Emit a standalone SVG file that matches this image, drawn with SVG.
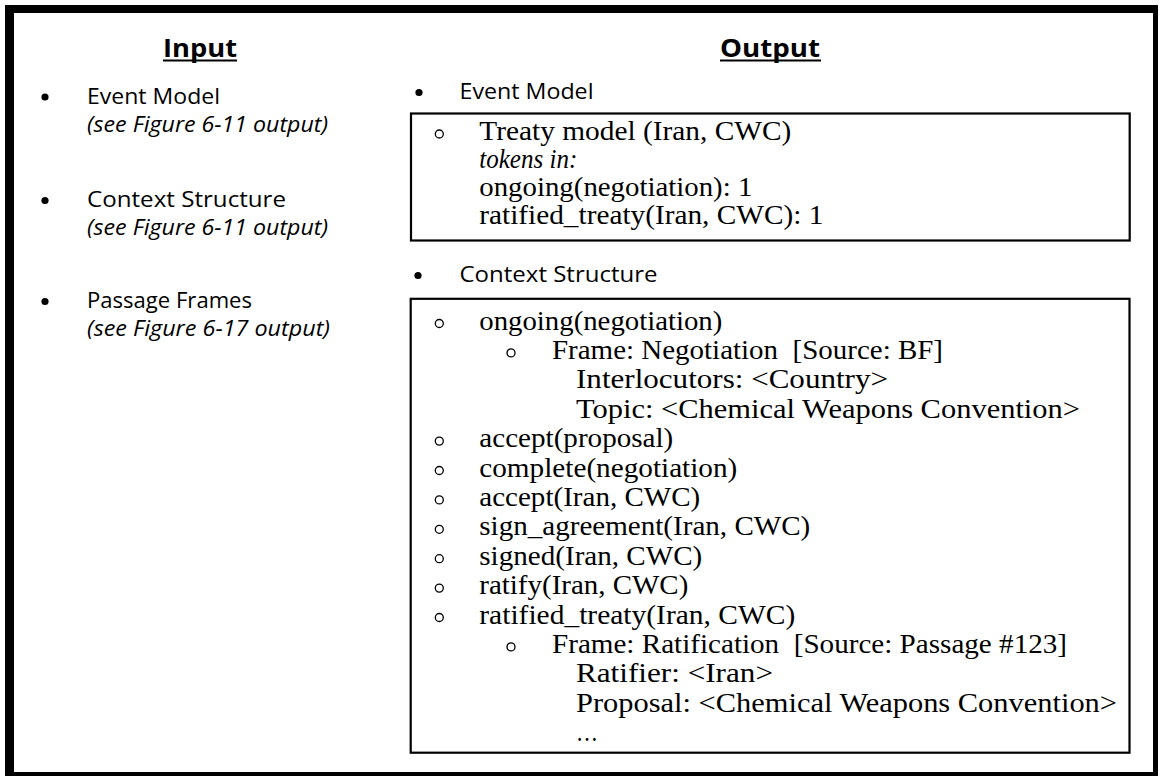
<svg xmlns="http://www.w3.org/2000/svg" width="1160" height="776" viewBox="0 0 1160 776">
<style>
.sans{font-family:"Open Sans","Noto Sans","Liberation Sans",sans-serif;font-size:21px;fill:#000}
.it{font-style:italic}
.head{font-family:"Open Sans","Noto Sans","Liberation Sans",sans-serif;font-size:25px;font-weight:bold;fill:#000}
.serif{font-family:"Liberation Serif","Times New Roman",serif;font-size:28px;fill:#000}
.box{fill:none;stroke:#000;stroke-width:2.2}
.mk{fill:none;stroke:#000;stroke-width:1.3}
.ul{stroke:#000;stroke-width:2}
</style>
<rect x="0" y="0" width="1160" height="776" fill="#fff"/>
<g id="frame">
<rect x="5" y="5" width="1153" height="8" fill="#000"/>
<rect x="5" y="5" width="9" height="771" fill="#000"/>
<rect x="1153" y="5" width="5" height="771" fill="#000"/>
<rect x="5" y="772" width="1153" height="4" fill="#000"/>
</g>
<g id="connectors"/>
<g id="input-header">
<text class="head" x="163" y="57" textLength="74" lengthAdjust="spacingAndGlyphs">Input</text>
<line class="ul" x1="163" y1="60.5" x2="237" y2="60.5"/>
</g>
<g id="output-header">
<text class="head" x="720" y="57" textLength="100" lengthAdjust="spacingAndGlyphs">Output</text>
<line class="ul" x1="720" y1="60.5" x2="821" y2="60.5"/>
</g>
<g id="input-event-model">
<circle cx="45" cy="97" r="3.6" fill="#000"/>
<text class="sans" x="87" y="104" textLength="133" lengthAdjust="spacingAndGlyphs">Event Model</text>
<text class="sans it" x="87" y="132" textLength="241" lengthAdjust="spacingAndGlyphs">(see Figure 6-11 output)</text>
</g>
<g id="input-context-structure">
<circle cx="45" cy="200.5" r="3.6" fill="#000"/>
<text class="sans" x="87" y="207" textLength="199" lengthAdjust="spacingAndGlyphs">Context Structure</text>
<text class="sans it" x="87" y="235" textLength="241" lengthAdjust="spacingAndGlyphs">(see Figure 6-11 output)</text>
</g>
<g id="input-passage-frames">
<circle cx="45" cy="301.5" r="3.6" fill="#000"/>
<text class="sans" x="87" y="308" textLength="165" lengthAdjust="spacingAndGlyphs">Passage Frames</text>
<text class="sans it" x="87" y="336" textLength="243" lengthAdjust="spacingAndGlyphs">(see Figure 6-17 output)</text>
</g>
<g id="output-event-model">
<circle cx="419" cy="92.5" r="3.6" fill="#000"/>
<text class="sans" x="459.5" y="99" textLength="134" lengthAdjust="spacingAndGlyphs">Event Model</text>
<rect class="box" x="411" y="113.5" width="718.7" height="127"/>
<circle class="mk" cx="439.3" cy="134" r="4"/>
<text class="serif" x="479.3" y="140" textLength="312" lengthAdjust="spacingAndGlyphs">Treaty model (Iran, CWC)</text>
<text class="serif it" x="479.3" y="168" textLength="98" lengthAdjust="spacingAndGlyphs">tokens in:</text>
<text class="serif" x="479.3" y="196" textLength="273" lengthAdjust="spacingAndGlyphs">ongoing(negotiation): 1</text>
<text class="serif" x="479.3" y="224" textLength="344" lengthAdjust="spacingAndGlyphs">ratified_treaty(Iran, CWC): 1</text>
</g>
<g id="output-context-structure">
<circle cx="418" cy="275.5" r="3.6" fill="#000"/>
<text class="sans" x="459.5" y="282" textLength="198" lengthAdjust="spacingAndGlyphs">Context Structure</text>
<rect class="box" x="410.7" y="298.8" width="718.8" height="453.9"/>
<circle class="mk" cx="439.3" cy="323.5" r="4"/>
<text class="serif" x="479.3" y="329.5" textLength="243" lengthAdjust="spacingAndGlyphs">ongoing(negotiation)</text>
<circle class="mk" cx="511" cy="352.9" r="4"/>
<text class="serif" x="552" y="358.9" textLength="391" lengthAdjust="spacingAndGlyphs">Frame: Negotiation&#160; [Source: BF]</text>
<text class="serif" x="576" y="388.3" textLength="312" lengthAdjust="spacingAndGlyphs">Interlocutors: &lt;Country&gt;</text>
<text class="serif" x="576" y="417.7" textLength="504" lengthAdjust="spacingAndGlyphs">Topic: &lt;Chemical Weapons Convention&gt;</text>
<circle class="mk" cx="439.3" cy="441.1" r="4"/>
<text class="serif" x="479.3" y="447.1" textLength="194" lengthAdjust="spacingAndGlyphs">accept(proposal)</text>
<circle class="mk" cx="439.3" cy="470.5" r="4"/>
<text class="serif" x="479.3" y="476.5" textLength="258" lengthAdjust="spacingAndGlyphs">complete(negotiation)</text>
<circle class="mk" cx="439.3" cy="499.9" r="4"/>
<text class="serif" x="479.3" y="505.9" textLength="221" lengthAdjust="spacingAndGlyphs">accept(Iran, CWC)</text>
<circle class="mk" cx="439.3" cy="529.3" r="4"/>
<text class="serif" x="479.3" y="535.3" textLength="331" lengthAdjust="spacingAndGlyphs">sign_agreement(Iran, CWC)</text>
<circle class="mk" cx="439.3" cy="558.7" r="4"/>
<text class="serif" x="479.3" y="564.7" textLength="223" lengthAdjust="spacingAndGlyphs">signed(Iran, CWC)</text>
<circle class="mk" cx="439.3" cy="588.1" r="4"/>
<text class="serif" x="479.3" y="594.1" textLength="209" lengthAdjust="spacingAndGlyphs">ratify(Iran, CWC)</text>
<circle class="mk" cx="439.3" cy="617.5" r="4"/>
<text class="serif" x="479.3" y="623.5" textLength="316" lengthAdjust="spacingAndGlyphs">ratified_treaty(Iran, CWC)</text>
<circle class="mk" cx="511" cy="646.9" r="4"/>
<text class="serif" x="552" y="652.9" textLength="515" lengthAdjust="spacingAndGlyphs">Frame: Ratification&#160; [Source: Passage #123]</text>
<text class="serif" x="576" y="682.3" textLength="197" lengthAdjust="spacingAndGlyphs">Ratifier: &lt;Iran&gt;</text>
<text class="serif" x="576" y="711.7" textLength="541" lengthAdjust="spacingAndGlyphs">Proposal: &lt;Chemical Weapons Convention&gt;</text>
<text class="serif" x="576" y="741.1" textLength="22" lengthAdjust="spacingAndGlyphs">…</text>
</g>
</svg>
